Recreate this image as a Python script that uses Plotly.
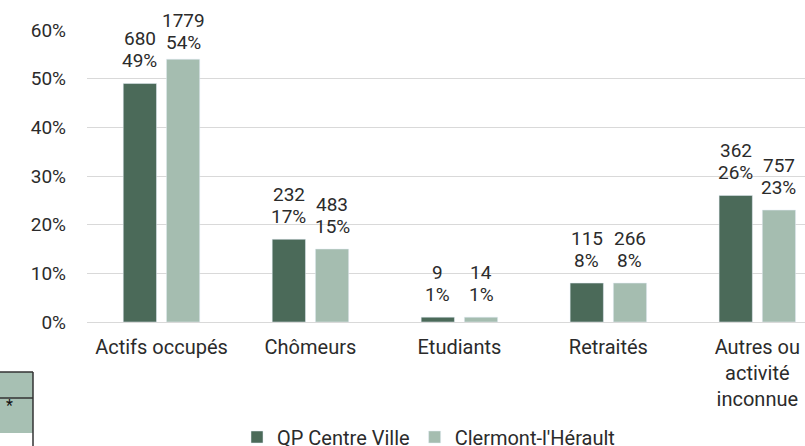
import plotly.graph_objects as go

categories = ["Actifs occupés", "Chômeurs", "Etudiants", "Retraités", "Autres ou<br>activité<br>inconnue"]
series_names = ["QP Centre Ville", "Clermont-l'Hérault"]
qp_counts = [680, 232, 9, 115, 362]
qp_pct = [49, 17, 1, 8, 26]
cl_counts = [1779, 483, 14, 266, 757]
cl_pct = [54, 15, 1, 8, 23]
y_ticks = [0, 10, 20, 30, 40, 50, 60]

W, H = 805, 446
L, R, T, B = 87, 0, 30, 124
PW, PH = W - L - R, H - T - B
Y_MAX = 60

def px(x):
    return (x - L) / PW

def py(y):
    return (H - B - y) / PH

dark = "#4b6a59"
light = "#a5bdb0"
txt = "#2b2b2b"
font = "Roboto"
bargap = 0.42
offset = (1 - bargap) / 4
PCT_GAP = 23      # px from bar top to centre of the % line
LINE_GAP = 22     # px between the two label lines
MIN_TOP = 20      # label centre may not go above this pixel row

fig = go.Figure()
annotations = []
for k, (name, cnt, pct, col) in enumerate([(series_names[0], qp_counts, qp_pct, dark),
                                           (series_names[1], cl_counts, cl_pct, light)]):
    fig.add_trace(go.Bar(name=name, x=categories, y=pct, marker_color=col))
    sgn = -1 if k == 0 else 1
    for i, (c, p) in enumerate(zip(cnt, pct)):
        bar_top_px = T + (Y_MAX - p) / Y_MAX * PH
        pct_shift = PCT_GAP
        if bar_top_px - pct_shift - LINE_GAP < MIN_TOP:
            pct_shift = bar_top_px - LINE_GAP - MIN_TOP
        for label, shift in ((f"{p}%", pct_shift), (f"{c}", pct_shift + LINE_GAP)):
            annotations.append(dict(
                x=i + sgn * offset, y=p, xref="x", yref="y", text=label,
                showarrow=False, yanchor="middle", xanchor="center", yshift=shift,
                font=dict(size=19, color=txt, family=font)))

shapes = [
    dict(type="rect", xref="paper", yref="paper", x0=px(-2), x1=px(33), y0=py(433), y1=py(372),
         fillcolor="#a7c0b3", line_width=0, layer="above"),
    dict(type="line", xref="paper", yref="paper", x0=px(-2), x1=px(33), y0=py(372), y1=py(372),
         line=dict(color="#333333", width=1.5)),
    dict(type="line", xref="paper", yref="paper", x0=px(-2), x1=px(33), y0=py(398), y1=py(398),
         line=dict(color="#333333", width=1.5)),
    dict(type="line", xref="paper", yref="paper", x0=px(33), x1=px(33), y0=py(372), y1=py(448),
         line=dict(color="#333333", width=1.5)),
]
annotations.append(dict(text="*", xref="paper", yref="paper", x=px(4), y=py(417),
                        showarrow=False, font=dict(size=16, color="#111")))

fig.update_layout(
    width=W, height=H,
    margin=dict(l=L, r=R, t=T, b=B, autoexpand=False),
    paper_bgcolor="white", plot_bgcolor="white",
    barmode="group", bargap=bargap, bargroupgap=0.23,
    font=dict(family=font, size=19, color=txt),
    showlegend=True,
    legend=dict(orientation="h", x=px(237), xanchor="left", y=py(437), yanchor="middle",
                font=dict(size=20, color=txt), itemwidth=30, traceorder="normal",
                bgcolor="rgba(0,0,0,0)"),
    shapes=shapes,
    annotations=annotations,
)
fig.update_xaxes(range=[-0.5, 4.32], showgrid=False, showline=False, ticks="",
                 tickfont=dict(size=20, color=txt), ticklabelstandoff=11)
fig.update_yaxes(range=[0, Y_MAX], tickvals=y_ticks, ticktext=[f"{v}%" for v in y_ticks],
                 showgrid=True, gridcolor="#d9d9d9", gridwidth=1, zeroline=True,
                 zerolinecolor="#d9d9d9", zerolinewidth=1, showline=False, ticks="",
                 tickfont=dict(size=19, color=txt), ticklabelstandoff=20)

fig.write_html("out.html", config={"displayModeBar": False},
               post_script="document.body.style.margin='0px';document.body.style.overflow='hidden';")
